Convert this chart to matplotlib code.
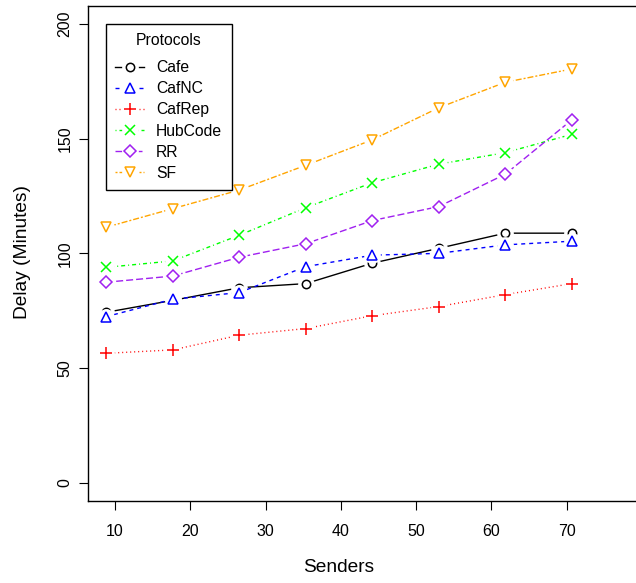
import matplotlib
matplotlib.use('Agg')
import matplotlib.pyplot as plt
from matplotlib.legend_handler import HandlerTuple

plt.rcParams['font.family'] = ['Liberation Sans', 'DejaVu Sans']
plt.rcParams['lines.scale_dashes'] = False

senders = [8.83, 17.67, 26.5, 35.33, 44.17, 53.0, 61.83, 70.67]

cafe = [74.3, 79.5, 85.0, 86.8, 95.7, 102.2, 108.8, 108.8]
cafnc = [72.4, 80.0, 82.9, 94.2, 99.2, 100.0, 103.7, 105.3]
cafrep = [56.4, 57.9, 64.3, 67.2, 72.8, 76.8, 82.0, 86.8]
hubcode = [93.9, 96.7, 107.9, 119.9, 130.8, 138.9, 143.9, 151.9]
rr = [87.4, 90.1, 98.3, 104.2, 114.3, 120.4, 134.5, 158.2]
sf = [111.4, 119.5, 127.6, 138.4, 149.5, 163.5, 174.6, 180.4]

names = ['Cafe', 'CafNC', 'CafRep', 'HubCode', 'RR', 'SF']
series = [cafe, cafnc, cafrep, hubcode, rr, sf]
colors = ['black', '#0000FF', '#FF0000', '#00FF00', '#A020F0', '#FFA500']
markers = ['o', '^', '+', 'x', 'D', 'v']
msizes = [6, 7.5, 9, 7.5, 6.5, 7.5]
# R lty 1..6 in points (1px ~ 0.72pt)
u = 0.72
styles = ['-', (0, (4*u, 4*u)), (0, (1*u, 3*u)), (0, (1*u, 3*u, 4*u, 3*u)),
          (0, (7*u, 3*u)), (0, (2*u, 2*u, 6*u, 2*u))]

fig = plt.figure(figsize=(6.36, 5.83), dpi=100)
ax = fig.add_axes([87.7/636, 82/583, 1 - 87.7/636, (501 - 5.7)/583])

handles = []
for i, (name, ys) in enumerate(zip(names, series)):
    z = 2 + i
    ln, = ax.plot(senders, ys, color=colors[i], linestyle=styles[i], lw=1, zorder=z)
    # white disc behind the marker gives the R type="b" gap
    gap, = ax.plot(senders, ys, 'o', ms=11, mfc='white', mec='white', lw=0, zorder=z + 0.1)
    mk, = ax.plot(senders, ys, linestyle='none', marker=markers[i], ms=msizes[i],
                  mfc='none', mec=colors[i], mew=1.1, zorder=z + 0.2)
    handles.append((ln, gap, mk))

ax.set_xlim(6.37, 79.2)
ax.set_ylim(-8, 208)
ax.set_xticks([10, 20, 30, 40, 50, 60, 70])
ax.set_yticks([0, 50, 100, 150, 200])
ax.tick_params(axis='both', direction='out', length=6.8, width=0.8, labelsize=11.5, color='black')
ax.tick_params(axis='x', pad=10)
ax.tick_params(axis='y', pad=4)
for lab in ax.get_yticklabels():
    lab.set_rotation(90)
    lab.set_va('center')
ax.spines['right'].set_visible(False)
for s in ['left', 'bottom', 'top']:
    ax.spines[s].set_linewidth(1)

ax.set_xlabel('Senders', fontsize=13.8)
ax.xaxis.set_label_coords((338.3 - 87.7) / 548.3, -0.1347)
ax.xaxis.label.set_va('center')
ax.set_ylabel('Delay (Minutes)', fontsize=13.8)
ax.yaxis.set_label_coords((23 - 87.7) / 548.3, 0.503)
ax.yaxis.label.set_va('center')

leg = ax.legend(handles, names, title='Protocols', loc='upper left',
                bbox_to_anchor=((106 - 87.7) / 548.3, (501 - 24) / 495.3),
                borderaxespad=0, fancybox=False, edgecolor='black', framealpha=1,
                fontsize=11.3, title_fontsize=11.3, handlelength=1.8, handletextpad=0.8,
                labelspacing=0.39, borderpad=0.6,
                handler_map={tuple: HandlerTuple(ndivide=1)})
leg._legend_box.sep = 8.5
leg.get_frame().set_linewidth(1)
leg.set_zorder(20)

fig.savefig('out.png', dpi=100)
